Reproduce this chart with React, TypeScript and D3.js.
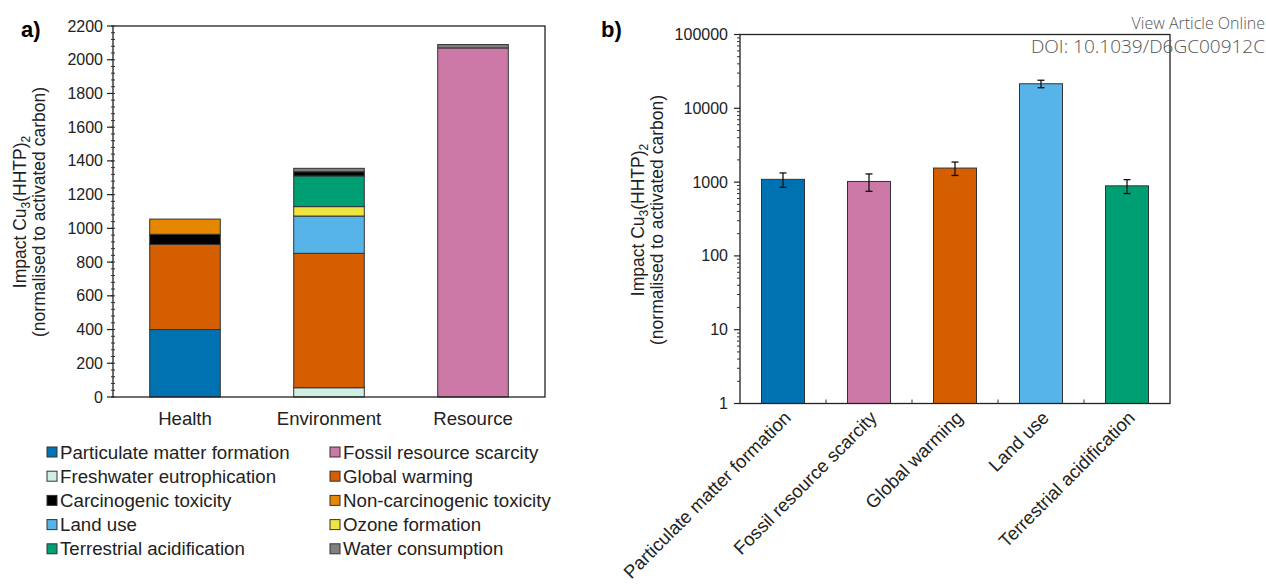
import React, { useEffect, useRef } from 'react';
import * as d3 from 'd3';

// panel a: stacked impacts per category
const categoriesA = ['Health', 'Environment', 'Resource'];
const legendNames = [
  'Particulate matter formation', 'Fossil resource scarcity',
  'Freshwater eutrophication', 'Global warming',
  'Carcinogenic toxicity', 'Non-carcinogenic toxicity',
  'Land use', 'Ozone formation',
  'Terrestrial acidification', 'Water consumption',
];
const stackOrder = [
  'Particulate matter formation', 'Freshwater eutrophication', 'Global warming',
  'Land use', 'Ozone formation', 'Terrestrial acidification',
  'Carcinogenic toxicity', 'Non-carcinogenic toxicity',
  'Fossil resource scarcity', 'Water consumption',
];
// values follow stackOrder
const healthValues = [400, 0, 505, 0, 0, 0, 60, 90, 0, 0];
const environmentValues = [0, 55, 797, 221, 56, 182, 25, 0, 0, 20];
const resourceValues = [0, 0, 0, 0, 0, 0, 0, 0, 2070, 20];
const ticksA = [0, 200, 400, 600, 800, 1000, 1200, 1400, 1600, 1800, 2000, 2200];

// panel b: single impacts with error bars
const categoriesB = ['Particulate matter formation', 'Fossil resource scarcity', 'Global warming', 'Land use', 'Terrestrial acidification'];
const valuesB = [1090, 1020, 1550, 21500, 890];
const errorsB = [240, 270, 320, 2500, 190];
const ticksB = [1, 10, 100, 1000, 10000, 100000];

const colors: Record<string, string> = {
  'Particulate matter formation': '#0072B2',
  'Freshwater eutrophication': '#CFEFE3',
  'Carcinogenic toxicity': '#000000',
  'Land use': '#56B4E9',
  'Terrestrial acidification': '#009E73',
  'Fossil resource scarcity': '#CC79A7',
  'Global warming': '#D55E00',
  'Non-carcinogenic toxicity': '#E58700',
  'Ozone formation': '#F0E442',
  'Water consumption': '#808080',
};

const FONT = 'Liberation Sans, Arial, sans-serif';

function yLabel(g: any, x: number, y: number) {
  const t = g.append('text')
    .attr('transform', `translate(${x},${y}) rotate(-90)`)
    .attr('text-anchor', 'middle')
    .style('font-size', '17.5px')
    .attr('fill', '#222');
  t.append('tspan').text('Impact Cu');
  t.append('tspan').text('3').style('font-size', '12px').attr('dy', 4);
  t.append('tspan').text('(HHTP)').attr('dy', -4);
  t.append('tspan').text('2').style('font-size', '12px').attr('dy', 4);
  g.append('text')
    .attr('transform', `translate(${x + 19},${y}) rotate(-90)`)
    .attr('text-anchor', 'middle')
    .style('font-size', '17.5px')
    .attr('fill', '#222')
    .text('(normalised to activated carbon)');
}

export default function App() {
  const ref = useRef<SVGSVGElement>(null);

  useEffect(() => {
    const svg = d3.select(ref.current);
    svg.selectAll('*').remove();
    svg.style('font-family', FONT);

    // ---------- panel a ----------
    const ax0 = 113, ax1 = 545, ay0 = 397, ay1 = 26;
    const xA = d3.scaleBand().domain(categoriesA).range([ax0, ax1]).paddingInner(0.51).paddingOuter(0.255);
    const yA = d3.scaleLinear().domain([0, 2200]).range([ay0, ay1]);
    const ga = svg.append('g');

    const rowsA = [healthValues, environmentValues, resourceValues];
    rowsA.forEach((vals, ci) => {
      let acc = 0;
      vals.forEach((v, si) => {
        if (v <= 0) return;
        ga.append('rect')
          .attr('x', xA(categoriesA[ci])!)
          .attr('width', xA.bandwidth())
          .attr('y', yA(acc + v))
          .attr('height', yA(acc) - yA(acc + v))
          .attr('fill', colors[stackOrder[si]])
          .attr('stroke', '#333')
          .attr('stroke-width', 1);
        acc += v;
      });
    });

    // frame
    ga.append('rect').attr('x', ax0).attr('y', ay1).attr('width', ax1 - ax0).attr('height', ay0 - ay1)
      .attr('fill', 'none').attr('stroke', '#222').attr('stroke-width', 1.3);

    // minor ticks
    d3.range(0, 2201, 40).forEach(v => {
      ga.append('line').attr('x1', ax0 - 2).attr('x2', ax0 + 2).attr('y1', yA(v)).attr('y2', yA(v))
        .attr('stroke', '#333').attr('stroke-width', 1);
    });
    ticksA.forEach(v => {
      ga.append('line').attr('x1', ax0 - 6).attr('x2', ax0).attr('y1', yA(v)).attr('y2', yA(v))
        .attr('stroke', '#222').attr('stroke-width', 1.2);
      ga.append('text').attr('x', ax0 - 10).attr('y', yA(v) + 5.5)
        .attr('text-anchor', 'end').style('font-size', '16px').attr('fill', '#222').text(v);
    });
    categoriesA.forEach(c => {
      ga.append('text').attr('x', xA(c)! + xA.bandwidth() / 2).attr('y', 425)
        .attr('text-anchor', 'middle').style('font-size', '18.6px').attr('fill', '#222').text(c);
    });
    yLabel(ga, 26, 212);
    ga.append('text').attr('x', 21).attr('y', 37).style('font-size', '22px').style('font-weight', 'bold').text('a)');

    // legend
    legendNames.forEach((name, i) => {
      const col = i % 2, row = Math.floor(i / 2);
      const lx = col === 0 ? 47 : 330;
      const ly = 452 + row * 24.2;
      ga.append('rect').attr('x', lx).attr('y', ly - 5).attr('width', 10).attr('height', 10)
        .attr('fill', colors[name]).attr('stroke', '#333').attr('stroke-width', 1);
      ga.append('text').attr('x', lx + 13).attr('y', ly + 6.5).style('font-size', '18.7px')
        .attr('fill', '#222').text(name);
    });

    // ---------- panel b ----------
    const bx0 = 740, bx1 = 1170, by0 = 403.5, by1 = 34.5;
    const xB = d3.scaleBand().domain(categoriesB).range([bx0, bx1]).paddingInner(0.5).paddingOuter(0.25);
    const yB = d3.scaleLog().domain([1, 100000]).range([by0, by1]);
    const gb = svg.append('g');

    categoriesB.forEach((c, i) => {
      gb.append('rect')
        .attr('x', xB(c)!).attr('width', xB.bandwidth())
        .attr('y', yB(valuesB[i])).attr('height', by0 - yB(valuesB[i]))
        .attr('fill', colors[c]).attr('stroke', '#333').attr('stroke-width', 1);
      const cx = xB(c)! + xB.bandwidth() / 2;
      const hi = yB(valuesB[i] + errorsB[i]), lo = yB(valuesB[i] - errorsB[i]);
      gb.append('line').attr('x1', cx).attr('x2', cx).attr('y1', hi).attr('y2', lo).attr('stroke', '#111').attr('stroke-width', 1.3);
      [hi, lo].forEach(yy => gb.append('line').attr('x1', cx - 3.5).attr('x2', cx + 3.5).attr('y1', yy).attr('y2', yy)
        .attr('stroke', '#111').attr('stroke-width', 1.3));
    });

    gb.append('rect').attr('x', bx0).attr('y', by1).attr('width', bx1 - bx0).attr('height', by0 - by1)
      .attr('fill', 'none').attr('stroke', '#222').attr('stroke-width', 1.3);

    // category separator ticks on x axis
    xB.domain().forEach((c, i) => {
      if (i === 0) return;
      const xx = xB(c)! - xB.step() * xB.paddingInner() / 2;
      gb.append('line').attr('x1', xx).attr('x2', xx).attr('y1', by0).attr('y2', by0 - 4).attr('stroke', '#333');
    });

    // log minor ticks
    ticksB.slice(0, -1).forEach(d => {
      d3.range(2, 10).forEach(m => {
        const yy = yB(d * m);
        gb.append('line').attr('x1', bx0 - 3).attr('x2', bx0).attr('y1', yy).attr('y2', yy)
          .attr('stroke', '#333').attr('stroke-width', 1);
      });
    });
    ticksB.forEach(v => {
      gb.append('line').attr('x1', bx0 - 6).attr('x2', bx0).attr('y1', yB(v)).attr('y2', yB(v))
        .attr('stroke', '#222').attr('stroke-width', 1.2);
      gb.append('text').attr('x', bx0 - 12).attr('y', yB(v) + 5.5)
        .attr('text-anchor', 'end').style('font-size', '16px').attr('fill', '#222').text(v);
    });
    categoriesB.forEach(c => {
      const cx = xB(c)! + xB.bandwidth() / 2;
      gb.append('text').attr('transform', `translate(${cx + 9},${419}) rotate(-45)`)
        .attr('text-anchor', 'end').style('font-size', '18.5px').attr('fill', '#222').text(c);
    });
    yLabel(gb, 644, 220);
    gb.append('text').attr('x', 601).attr('y', 37).style('font-size', '22px').style('font-weight', 'bold').text('b)');

    // watermark
    svg.append('text').attr('x', 1265).attr('y', 29).attr('text-anchor', 'end')
      .style('font-family', '"Open Sans", sans-serif').style('font-weight', 300)
      .style('font-size', '16px').attr('fill', '#555').text('View Article Online');
    svg.append('text').attr('x', 1265).attr('y', 53).attr('text-anchor', 'end')
      .style('font-family', '"Open Sans", sans-serif').style('font-weight', 300)
      .style('font-size', '19px').attr('fill', '#555').text('DOI: 10.1039/D6GC00912C');
  }, []);

  return (
    <svg ref={ref} width={1266} height={585}
      style={{ position: 'absolute', left: 0, top: 0, background: '#fff' }} />
  );
}
